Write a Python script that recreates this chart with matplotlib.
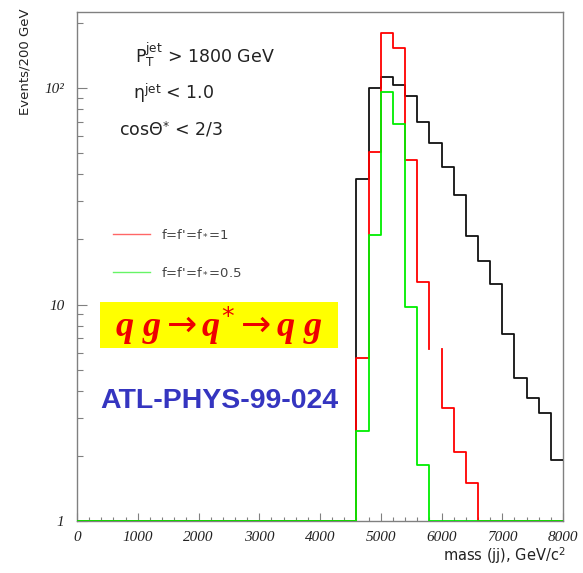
import numpy as np
import matplotlib
matplotlib.use("Agg")
import matplotlib.pyplot as plt
from matplotlib.patches import Rectangle
from matplotlib.ticker import FixedLocator, MultipleLocator, LogLocator, NullFormatter, FixedFormatter

plt.rcParams['mathtext.fontset'] = 'custom'
plt.rcParams['mathtext.rm'] = 'DejaVu Sans'
plt.rcParams['mathtext.it'] = 'Liberation Serif:italic:bold'
plt.rcParams['mathtext.bf'] = 'DejaVu Sans:bold'
plt.rcParams['mathtext.fallback'] = 'stix'

# dijet mass histogram, 200 GeV bins from 0 to 8000 GeV
bin_width = 200
mass_max = 8000
first_bin = 4600   # lower edge of the first filled bin

# events / 200 GeV, starting at the 4600 GeV bin
background = [38.0, 99.7, 112, 103, 91.8, 69.9, 55.6, 43.3, 32.1, 20.7,
              15.9, 12.4, 7.3, 4.6, 3.7, 3.15, 1.91]
signal_f1 = [5.66, 50.6, 180, 154, 46.5, 12.7, 6.26, 3.32, 2.08, 1.50]
signal_f05 = [2.61, 20.9, 95.9, 68.0, 9.71, 1.81]
signal_f1_gaps = [5800]   # bin whose top edge is missing in the original drawing

edges = np.arange(0, mass_max + bin_width, bin_width)
y_floor = 1.0


def step_xy(counts, gaps=()):
    full = np.full(len(edges) - 1, y_floor)
    i0 = int((first_bin - edges[0]) / bin_width)
    full[i0:i0 + len(counts)] = counts
    xs = list(np.repeat(edges, 2)[1:-1].astype(float))
    ys = list(np.repeat(full, 2))
    # break the line on the top of the listed bins
    for g in sorted(gaps, reverse=True):
        k = int((g - edges[0]) / bin_width)
        xs.insert(2 * k + 1, np.nan)
        ys.insert(2 * k + 1, np.nan)
    return xs, ys


fig = plt.figure(figsize=(5.83, 5.73), dpi=100)
ax = fig.add_axes([77 / 583, 1 - 521 / 573, (563 - 77) / 583, (521 - 12.3) / 573])

x, y = step_xy(background)
ax.plot(x, y, color='#111111', lw=1.3, zorder=3)
x, y = step_xy(signal_f1, signal_f1_gaps)
ax.plot(x, y, color='#ff0000', lw=1.3, zorder=3)
x, y = step_xy(signal_f05)
ax.plot(x, y, color='#00ee00', lw=1.3, zorder=3)

ax.set_yscale('log')
ax.set_xlim(0, mass_max)
ax.set_ylim(1, 224)

for s in ax.spines.values():
    s.set_color('#808080')
    s.set_linewidth(1.0)

tick_font = dict(family='Liberation Serif', style='italic', size=11)
ax.xaxis.set_major_locator(MultipleLocator(1000))
ax.xaxis.set_minor_locator(MultipleLocator(200))
ax.yaxis.set_major_locator(FixedLocator([1, 10, 100]))
ax.yaxis.set_major_formatter(FixedFormatter(['1', '10', '10²']))
ax.yaxis.set_minor_locator(LogLocator(base=10, subs=np.arange(2, 10)))
ax.yaxis.set_minor_formatter(NullFormatter())
ax.tick_params(axis='both', which='both', direction='in', color='#808080', width=0.8,
               top=False, right=False)
ax.tick_params(axis='x', which='major', length=6, pad=7)
ax.tick_params(axis='x', which='minor', length=3)
ax.tick_params(axis='y', which='major', length=7, pad=9)
ax.tick_params(axis='y', which='minor', length=4)
for lab in ax.get_xticklabels() + ax.get_yticklabels():
    lab.set_fontproperties(matplotlib.font_manager.FontProperties(**tick_font))
    lab.set_color('#222222')


def px(xp, yp):
    return xp / 583, 1 - yp / 573


sans = dict(family='DejaVu Sans', color='#222222')
fig.text(*px(25, 8), 'Events/200 GeV', rotation=90, ha='center', va='top', fontsize=9.5, **sans)
fig.text(*px(566, 556), r'mass (jj), GeV/c$^{2}$', ha='right', va='center', fontsize=10.5, **sans)

fig.text(*px(135, 55), r'P$_{\rm T}^{\rm jet}$ > 1800 GeV', ha='left', va='center', fontsize=12.5, **sans)
fig.text(*px(133, 93), r'η$^{\rm jet}$ < 1.0', ha='left', va='center', fontsize=12.5, **sans)
fig.text(*px(119, 130), r'cosΘ$^{*}$ < 2/3', ha='left', va='center', fontsize=12.5, **sans)

# legend entries
ax.plot([0.074, 0.15], [0.564, 0.564], transform=ax.transAxes, color='#ff0000', lw=1.0, alpha=0.6)
ax.plot([0.074, 0.15], [0.489, 0.489], transform=ax.transAxes, color='#00ee00', lw=1.0, alpha=0.6)
fig.text(*px(161, 234), r"f=f'=f$_{\rm *}$=1", ha='left', va='center', fontsize=9.5, color='#444444')
fig.text(*px(161, 272), r"f=f'=f$_{\rm *}$=0.5", ha='left', va='center', fontsize=9.5, color='#444444')

fig.add_artist(Rectangle(px(100, 348), 238 / 583, 46 / 573, transform=fig.transFigure,
                         facecolor='#ffff00', edgecolor='none', zorder=1))
fig.text(*px(219, 326), r'$q\ g \rightarrow q^{*} \rightarrow q\ g$', ha='center', va='center',
         fontsize=26, color='#ee0000', zorder=2)
fig.text(*px(219, 401), 'ATL-PHYS-99-024', ha='center', va='center', fontsize=20.5,
         family='Liberation Sans', weight='bold', color='#3535c0')

fig.savefig('out.png', dpi=100)
